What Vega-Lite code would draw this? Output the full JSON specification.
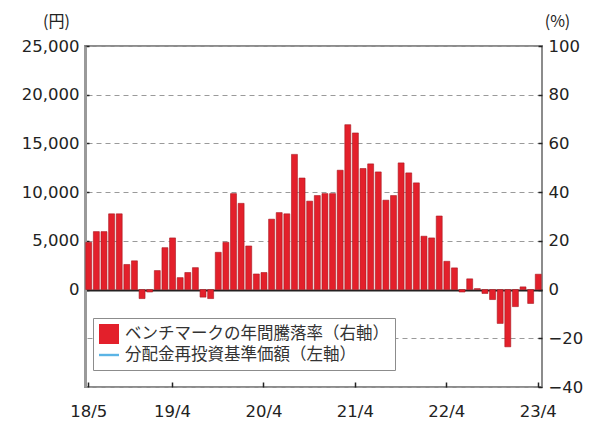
{
  "$schema": "https://vega.github.io/schema/vega-lite/v6.json",
  "width": 457,
  "height": 341,
  "autosize": "none",
  "padding": {"left": 85, "top": 46, "right": 47, "bottom": 37},
  "background": "white",
  "config": {
    "view": {"stroke": "#8c8c8c", "strokeWidth": 2},
    "font": "DejaVu Sans",
    "axis": {"labelFont": "DejaVu Sans", "labelColor": "#222", "titleFont": "Noto Sans CJK JP", "titleFontWeight": "normal", "titleColor": "#222"}
  },
  "datasets": {
    "bm": [
      {"m": "18/5", "r": 19.4}, {"m": "18/6", "r": 23.8}, {"m": "18/7", "r": 23.8}, {"m": "18/8", "r": 31.1},
      {"m": "18/9", "r": 31.1}, {"m": "18/10", "r": 10.3}, {"m": "18/11", "r": 11.8}, {"m": "18/12", "r": -3.7},
      {"m": "19/1", "r": -1.0}, {"m": "19/2", "r": 7.8}, {"m": "19/3", "r": 17.2}, {"m": "19/4", "r": 21.2},
      {"m": "19/5", "r": 4.9}, {"m": "19/6", "r": 7.0}, {"m": "19/7", "r": 9.0}, {"m": "19/8", "r": -3.1},
      {"m": "19/9", "r": -3.7}, {"m": "19/10", "r": 15.3}, {"m": "19/11", "r": 19.4}, {"m": "19/12", "r": 39.4},
      {"m": "20/1", "r": 35.4}, {"m": "20/2", "r": 17.9}, {"m": "20/3", "r": 6.4}, {"m": "20/4", "r": 7.0},
      {"m": "20/5", "r": 28.9}, {"m": "20/6", "r": 31.6}, {"m": "20/7", "r": 31.1}, {"m": "20/8", "r": 55.5},
      {"m": "20/9", "r": 45.8}, {"m": "20/10", "r": 36.3}, {"m": "20/11", "r": 38.6}, {"m": "20/12", "r": 39.4},
      {"m": "21/1", "r": 39.4}, {"m": "21/2", "r": 49.0}, {"m": "21/3", "r": 67.7}, {"m": "21/4", "r": 64.3},
      {"m": "21/5", "r": 49.7}, {"m": "21/6", "r": 51.6}, {"m": "21/7", "r": 48.3}, {"m": "21/8", "r": 36.7},
      {"m": "21/9", "r": 38.6}, {"m": "21/10", "r": 52.0}, {"m": "21/11", "r": 47.9}, {"m": "21/12", "r": 43.8},
      {"m": "22/1", "r": 21.9}, {"m": "22/2", "r": 21.2}, {"m": "22/3", "r": 30.2}, {"m": "22/4", "r": 11.6},
      {"m": "22/5", "r": 8.9}, {"m": "22/6", "r": -1.0}, {"m": "22/7", "r": 4.4}, {"m": "22/8", "r": 0.4},
      {"m": "22/9", "r": -1.6}, {"m": "22/10", "r": -4.1}, {"m": "22/11", "r": -13.9}, {"m": "22/12", "r": -23.5},
      {"m": "23/1", "r": -7.0}, {"m": "23/2", "r": 1.1}, {"m": "23/3", "r": -5.7}, {"m": "23/4", "r": 6.3}
    ],
    "nav": []
  },
  "layer": [
    {
      "data": {"name": "bm"},
      "mark": {"type": "bar", "color": "#e3202b", "stroke": "#a8161e", "strokeWidth": 0.6},
      "encoding": {
        "x": {
          "field": "m", "type": "ordinal", "sort": null,
          "scale": {"paddingInner": 0.22, "paddingOuter": 0.1},
          "axis": {
            "title": null, "values": ["18/5", "19/4", "20/4", "21/4", "22/4", "23/4"],
            "labelAngle": 0, "labelFontSize": 16.5, "labelPadding": 21,
            "tickSize": -5, "tickColor": "#222", "tickWidth": 1.5,
            "domain": false
          }
        },
        "y": {
          "field": "r", "type": "quantitative",
          "scale": {"domain": [-40, 100], "nice": false, "zero": false},
          "axis": {
            "orient": "right", "values": [-40, -20, 0, 20, 40, 60, 80, 100],
            "title": "(%)", "titleAngle": 0, "titleX": 15, "titleY": -25,
            "titleAlign": "center", "titleBaseline": "middle", "titleFontSize": 16,
            "labelFontSize": 16.5, "labelPadding": 10,
            "tickSize": -4, "tickColor": "#222", "tickWidth": 1.5,
            "domain": false,
            "grid": true,
            "gridColor": {"condition": {"test": "datum.value === 0", "value": "#222"}, "value": "#9a9a9a"},
            "gridDash": {"condition": {"test": "datum.value === 0", "value": []}, "value": [5, 4]},
            "gridWidth": {"condition": {"test": "datum.value === 0", "value": 1.8}, "value": 1}
          }
        }
      }
    },
    {
      "data": {"name": "nav"},
      "mark": {"type": "point", "filled": true, "opacity": 1},
      "encoding": {
        "y": {
          "field": "v", "type": "quantitative",
          "scale": {"domain": [-10000, 25000], "nice": false, "zero": false},
          "axis": {
            "orient": "left", "values": [0, 5000, 10000, 15000, 20000, 25000], "format": ",d",
            "title": "(円)", "titleAngle": 0, "titleX": -29, "titleY": -25,
            "titleAlign": "center", "titleBaseline": "middle", "titleFontSize": 16,
            "labelFontSize": 16.5, "labelPadding": 10,
            "tickSize": -4, "tickColor": "#222", "tickWidth": 1.5,
            "domain": true, "domainColor": "#9a9a9a", "domainWidth": 3,
            "grid": false
          }
        },
        "color": {
          "field": "s", "type": "nominal",
          "scale": {"domain": ["ベンチマークの年間騰落率（右軸）", "分配金再投資基準価額（左軸）"], "range": ["#e3202b", "#5bb4e5"]},
          "legend": {
            "title": null, "orient": "none", "legendX": 8, "legendY": 272,
            "padding": 6, "strokeColor": "#8c8c8c", "fillColor": "white",
            "labelFont": "Noto Sans CJK JP", "labelFontSize": 16.5, "labelColor": "#333",
            "symbolSize": 400, "symbolStrokeWidth": 0, "rowPadding": 1, "labelOffset": 6,
            "labelLimit": 400
          }
        },
        "shape": {
          "field": "s", "type": "nominal",
          "scale": {"domain": ["ベンチマークの年間騰落率（右軸）", "分配金再投資基準価額（左軸）"], "range": ["square", "M-1,-0.12H1V0.12H-1Z"]}
        }
      }
    }
  ],
  "resolve": {"scale": {"y": "independent"}}
}
